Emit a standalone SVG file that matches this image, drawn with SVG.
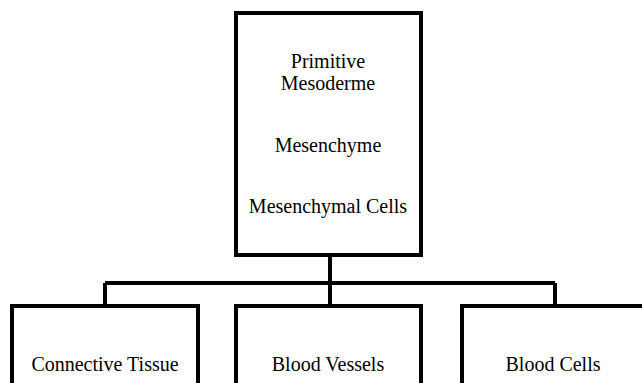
<svg xmlns="http://www.w3.org/2000/svg" width="642" height="383" viewBox="0 0 642 383">
<style>
.box{fill:#fff;stroke:#000;stroke-width:4}
.ln{fill:none;stroke:#000;stroke-width:4}
text{font-family:"Liberation Serif","Times New Roman",serif;font-size:20px;fill:#000;text-anchor:middle}
</style>
<rect width="642" height="383" fill="#fff"/>
<g id="connectors">
<path class="ln" d="M330,255 V283 M105,283 H555 M105,283 V306 M330,283 V306 M555,283 V306"/>
</g>
<g id="root">
<rect class="box" x="236" y="13" width="185" height="242"/>
<text x="328" y="68">Primitive</text>
<text x="328" y="90">Mesoderme</text>
<text x="328" y="152">Mesenchyme</text>
<text x="328" y="213">Mesenchymal Cells</text>
</g>
<g id="connective">
<rect class="box" x="12" y="306" width="186" height="100"/>
<text x="105" y="371">Connective Tissue</text>
</g>
<g id="vessels">
<rect class="box" x="236" y="306" width="185" height="100"/>
<text x="328" y="371">Blood Vessels</text>
</g>
<g id="cells">
<rect class="box" x="462" y="306" width="200" height="100"/>
<text x="553" y="371">Blood Cells</text>
</g>
</svg>
